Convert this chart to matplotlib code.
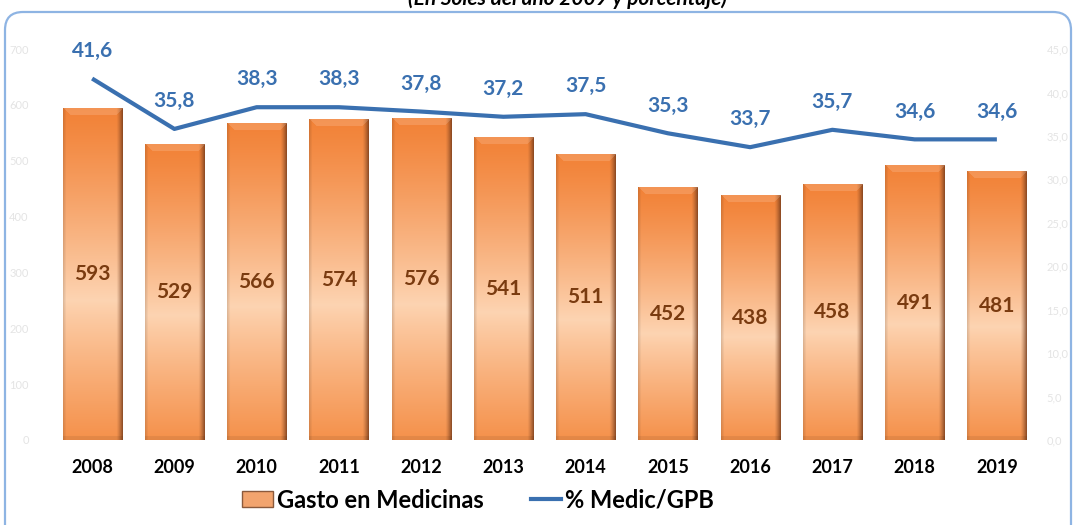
import numpy as np
import matplotlib.pyplot as plt
from matplotlib.patches import FancyBboxPatch, Patch
from matplotlib.lines import Line2D

years = ['2008', '2009', '2010', '2011', '2012', '2013', '2014', '2015', '2016', '2017', '2018', '2019']
gasto = [593, 529, 566, 574, 576, 541, 511, 452, 438, 458, 491, 481]
pct = [41.6, 35.8, 38.3, 38.3, 37.8, 37.2, 37.5, 35.3, 33.7, 35.7, 34.6, 34.6]
left_ticks = [0, 100, 200, 300, 400, 500, 600, 700]
right_ticks = [0, 5, 10, 15, 20, 25, 30, 35, 40, 45]
title = '(En Soles del año 2009 y porcentaje)'
series_names = ['Gasto en Medicinas', '% Medic/GPB']

plt.rcParams['font.family'] = ['Lato', 'DejaVu Sans']

W, H = 1074, 525
fig = plt.figure(figsize=(W / 100, H / 100), dpi=100)

# background frame
bg = fig.add_axes([0, 0, 1, 1])
bg.set_xlim(0, W)
bg.set_ylim(H, 0)
bg.axis('off')
bg.set_zorder(-1)
bg.add_patch(FancyBboxPatch((5, 12), 1066, 600, boxstyle='round,pad=0,rounding_size=18',
                            facecolor='white', edgecolor='#8EB4E3', linewidth=1.6))

ax_left, ax_right, ax_top, ax_bot = 51, 1038, 49, 440
ax = fig.add_axes([ax_left / W, 1 - ax_bot / H, (ax_right - ax_left) / W, (ax_bot - ax_top) / H])
ax.patch.set_visible(False)
x = np.arange(len(years))
bw = 0.72
px_per_cat = (ax_right - ax_left) / len(years)
px_per_unit = (ax_bot - ax_top) / 700.0


def bar_image(hpx, wpx):
    t = np.linspace(0, 1, hpx)[:, None]
    c_top = np.array([242, 130, 55]) / 255
    c_mid = np.array([253, 212, 178]) / 255
    c_bot = np.array([245, 145, 75]) / 255
    tm = 0.58
    a = np.clip(t / tm, 0, 1) ** 1.2
    b = np.clip((t - tm) / (1 - tm), 0, 1) ** 0.9
    col = np.where(t <= tm, c_top * (1 - a) + c_mid * a, c_mid * (1 - b) + c_bot * b)
    img = np.repeat(col[:, None, :], wpx, axis=1).reshape(hpx, wpx, 3)
    cols = np.arange(wpx)
    rows = np.arange(hpx)
    # right shadow (brownish)
    r = np.clip((cols - (wpx - 7)) / 7, 0, 1) ** 1.3
    brown = np.array([110, 55, 25]) / 255
    img = img * (1 - 0.9 * r)[None, :, None] + brown[None, None, :] * (r[None, :, None] * 0.9)
    # left slight shade
    l = np.clip((3 - cols) / 3, 0, 1)
    img = img * (1 - 0.12 * l)[None, :, None]
    # top bevel highlight (trapezoid)
    top = (rows < 7)[:, None] & (cols[None, :] > rows[:, None]) & (cols[None, :] < wpx - rows[:, None])
    img[top] = img[top] * 0.85 + 0.15
    # bottom bevel slight darker
    bot = (rows > hpx - 5)[:, None]
    img = np.where(bot[..., None], img * 0.93, img)
    return np.clip(img, 0, 1)


for xi, v in zip(x, gasto):
    hpx = max(int(v * px_per_unit), 10)
    wpx = int(bw * px_per_cat)
    ax.imshow(bar_image(hpx, wpx), extent=[xi - bw / 2, xi + bw / 2, 0, v],
              aspect='auto', zorder=2, interpolation='bilinear')
    ax.text(xi, v / 2, str(v), ha='center', va='center', fontsize=15, fontweight='bold',
            color='#7A3B10', zorder=4)

ax.set_xlim(-0.5, len(years) - 0.5)
ax.set_ylim(0, 700)
ax.set_yticks(left_ticks)
ax.set_yticklabels([str(v) for v in left_ticks], fontsize=8, color='#E4E4E4')
ax.set_xticks(x)
ax.set_xticklabels(years, fontsize=13, fontweight='bold', color='black')
ax.tick_params(axis='x', length=0, pad=14)
ax.tick_params(axis='y', length=0, pad=16)
for s in ax.spines.values():
    s.set_visible(False)

ax2 = ax.twinx()
ax2.plot(x, pct, color='#3A70B0', linewidth=3, zorder=5, solid_capstyle='butt')
for xi, v in zip(x, pct):
    ax2.annotate(f'{v:.1f}'.replace('.', ','), (xi, v), xytext=(0, 20), textcoords='offset points',
                 ha='center', va='center', fontsize=15, fontweight='bold', color='#3A70B0')
ax2.set_ylim(0, 45)
ax2.set_yticks(right_ticks)
ax2.set_yticklabels([f'{v:.1f}'.replace('.', ',') for v in right_ticks], fontsize=8, color='#E4E4E4')
ax2.tick_params(axis='y', length=0, pad=6)
for s in ax2.spines.values():
    s.set_visible(False)

handles = [Patch(facecolor='#F2A46E', edgecolor='#8B5A3C', linewidth=1),
           Line2D([], [], color='#3A70B0', linewidth=3)]
fig.legend(handles, series_names, loc='center', bbox_to_anchor=(478 / W, 1 - 500 / H), ncol=2,
           frameon=False, prop={'size': 17, 'weight': 'bold'}, columnspacing=2.0,
           handlelength=1.3, handletextpad=0.15, handleheight=0.65)

fig.text(567 / W, 1 - 5 / H, title, ha='center', va='baseline', fontsize=15,
         fontweight='bold', style='italic')

fig.savefig('out.png', dpi=100)
